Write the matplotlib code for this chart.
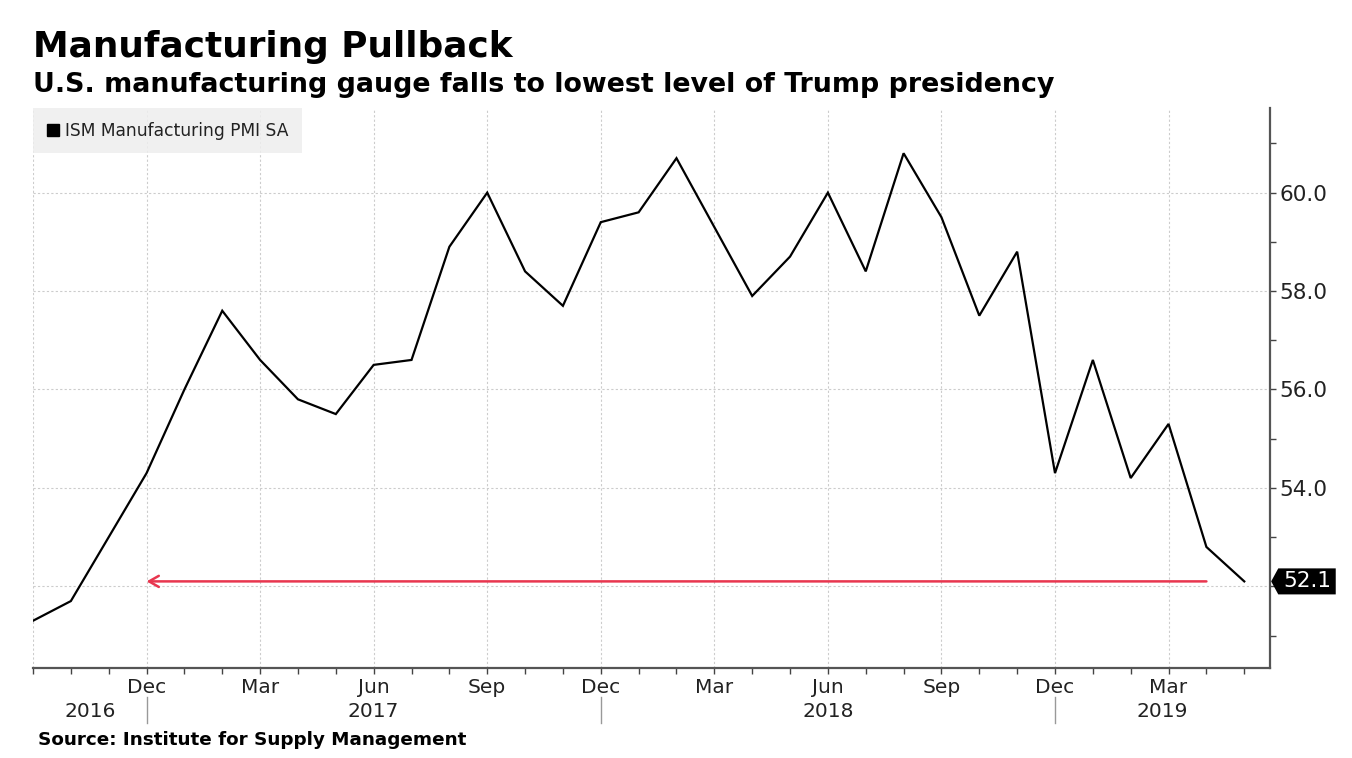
import matplotlib
matplotlib.use("Agg")
import matplotlib.pyplot as plt
import numpy as np
import pandas as pd
from matplotlib.lines import Line2D
from matplotlib.path import Path

# ---------------- data ----------------
months = pd.date_range("2016-09-01", periods=33, freq="MS")
pmi = [51.3, 51.7, 53.0, 54.3, 56.0, 57.6, 56.6, 55.8, 55.5, 56.5, 56.6, 58.9,
       60.0, 58.4, 57.7, 59.4, 59.6, 60.7, 59.3, 57.9, 58.7, 60.0, 58.4, 60.8,
       59.5, 57.5, 58.8, 54.3, 56.6, 54.2, 55.3, 52.8, 52.1]
series_name = "ISM Manufacturing PMI SA"
title = "Manufacturing Pullback"
subtitle = "U.S. manufacturing gauge falls to lowest level of Trump presidency"
source = "Source: Institute for Supply Management"
y_ticks = [52, 54, 56, 58, 60]
y_tick_labels = ["", "54.0", "56.0", "58.0", "60.0"]
arrow_start = pd.Timestamp("2019-04-01")
arrow_end = pd.Timestamp("2016-12-01")

# month index on a linear axis
def midx(ts):
    return (ts.year - months[0].year) * 12 + (ts.month - months[0].month)

x = np.array([midx(m) for m in months])

plt.rcParams["font.family"] = ["DejaVu Sans"]
fig = plt.figure(figsize=(13.52, 7.58), dpi=100, facecolor="white")
ax = fig.add_axes([33 / 1352, 1 - 668 / 758, (1270 - 33) / 1352, 560 / 758])

ax.plot(x, pmi, color="black", lw=1.6, zorder=4, solid_joinstyle="miter")

xmax = x[-1] + 0.68
ax.set_xlim(0, xmax)
ax.set_ylim(50.34, 61.72)

# red arrow back to the earlier level
ax.annotate("", xy=(midx(arrow_end), pmi[-1]), xytext=(midx(arrow_start), pmi[-1]),
            arrowprops=dict(arrowstyle="->,head_length=0.7,head_width=0.4",
                            color="#e8364f", lw=1.8, shrinkA=0, shrinkB=0),
            zorder=3)

# x ticks
major = [i for i, m in zip(x, months) if m.month in (3, 6, 9, 12)]
major_lbl = [m.strftime("%b") if i > 0 else "" for i, m in zip(x, months) if m.month in (3, 6, 9, 12)]
ax.set_xticks(major)
ax.set_xticklabels(major_lbl)
ax.set_xticks(x, minor=True)

# y ticks on right
ax.yaxis.tick_right()
ax.set_yticks(y_ticks)
ax.set_yticklabels(y_tick_labels)
ax.set_yticks(np.arange(51, 62, 2), minor=True)

ax.tick_params(axis="x", which="both", direction="out", length=4, width=1,
               color="#444444", labelsize=14.5, labelcolor="#222222", pad=3)
ax.tick_params(axis="y", which="both", direction="out", length=4, width=1,
               color="#444444", labelsize=15.5, labelcolor="#222222", pad=3)

for s in ("top", "left"):
    ax.spines[s].set_visible(False)
for s in ("bottom", "right"):
    ax.spines[s].set_color("#555555")
    ax.spines[s].set_linewidth(1.6)

ax.grid(True, which="major", color="#cccccc", lw=0.8, ls=(0, (2, 2)))
ax.set_axisbelow(True)

# year labels and separators
dec_pos = [i for i, m in zip(x, months) if m.month == 12]
bounds = [0] + dec_pos + [xmax]
years = [str(m.year) for m in months if m.month == 12] + [str(months[-1].year)]
xt = ax.get_xaxis_transform()
for k, yr in enumerate(years):
    ax.text((bounds[k] + bounds[k + 1]) / 2, -0.077, yr, transform=xt,
            ha="center", va="center", fontsize=14.5, color="#222222")
for d in dec_pos:
    ax.plot([d, d], [-0.052, -0.098], transform=xt, color="#999999",
            lw=1, clip_on=False)

# legend
handle = Line2D([], [], marker="s", color="black", ls="none", markersize=9)
leg = ax.legend([handle], [series_name], loc="upper left", bbox_to_anchor=(0, 1),
                borderaxespad=0, fontsize=12.3, frameon=True, fancybox=False,
                facecolor="#eeeeee", edgecolor="none", framealpha=0.85,
                handlelength=0.7, handletextpad=0.35, borderpad=0.8)
for t in leg.get_texts():
    t.set_color("#222222")

# last value tag
def tag_box(x0, y0, width, height, mutation_size):
    padx = 0.22 * mutation_size
    pady = 0.14 * mutation_size
    tip = 0.33 * mutation_size
    x0 -= padx
    y0 -= pady
    w = width + 2 * padx
    h = height + 2 * pady
    verts = [(x0 - tip, y0 + h / 2), (x0, y0), (x0 + w, y0), (x0 + w, y0 + h),
             (x0, y0 + h), (x0 - tip, y0 + h / 2)]
    return Path(verts, closed=True)

ax.annotate(f"{pmi[-1]:.1f}", xy=(1, pmi[-1]), xycoords=ax.get_yaxis_transform(),
            xytext=(13, 0), textcoords="offset pixels", ha="left", va="center",
            fontsize=15.5, color="white", annotation_clip=False,
            bbox=dict(boxstyle=tag_box, fc="black", ec="none"), zorder=6)

# titles
fig.text(33 / 1352, 1 - 57 / 758, title, fontsize=25.8, fontweight="bold",
         color="black", va="baseline", ha="left")
fig.text(33 / 1352, 1 - 92 / 758, subtitle, fontsize=19.4, fontweight="bold",
         color="black", va="baseline", ha="left")
fig.text(38 / 1352, 1 - 745 / 758, source, fontsize=13.2, fontweight="bold",
         color="black", va="baseline", ha="left")

fig.savefig("out.png", dpi=100, facecolor="white")
